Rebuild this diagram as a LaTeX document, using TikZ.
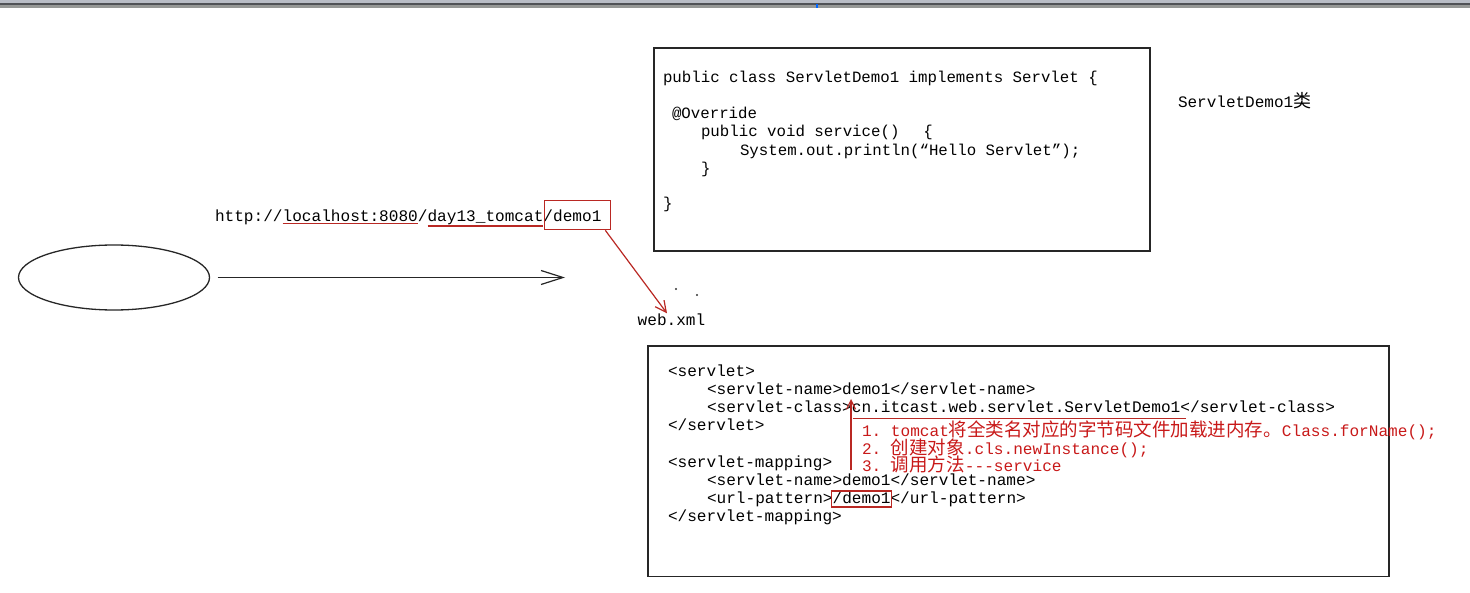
\documentclass[tikz,border=0pt]{standalone}
\usepackage{fontspec}
\setmonofont{Liberation Mono}
\newfontfamily\cjk{Noto Sans CJK SC}
\usetikzlibrary{arrows.meta,shapes.geometric}
\definecolor{annred}{RGB}{200,25,25}
\definecolor{linered}{RGB}{185,40,35}
\definecolor{barlight}{RGB}{185,189,198}
\definecolor{bardark}{RGB}{80,82,86}
\definecolor{barmid}{RGB}{150,152,150}
\newcommand{\zh}[1]{{\cjk\fontsize{18.5}{20}\selectfont #1}}
\newcommand{\zhs}[1]{{\cjk\fontsize{18}{20}\selectfont #1}}
\begin{document}
\begin{tikzpicture}[x=1pt,y=-1pt,
  codeA/.style={font=\ttfamily\fontsize{15.75}{18}\selectfont, inner sep=0pt, outer sep=0pt, anchor=base west},
  codeB/.style={font=\ttfamily\fontsize{16.1}{18}\selectfont, inner sep=0pt, outer sep=0pt, anchor=base west},
  ann/.style={codeB, text=annred},
  box/.style={draw=black!85, line width=1.7pt, inner sep=0pt, anchor=north west},
  redbox/.style={draw=linered, line width=1.3pt, inner sep=0pt, anchor=north west},
  redline/.style={draw=linered, line width=1.2pt},
  barb/.style={-{Straight Barb[length=#1pt,width=#1pt]}}]
\useasboundingbox (0,0) rectangle (1470,593);
% top bar
\fill[barlight] (0,0) rectangle (1470,3);
\fill[bardark] (0,3) rectangle (1470,4.6);
\fill[barmid] (0,4.6) rectangle (1470,7.6);
\fill[blue!60!cyan] (816,4) rectangle (818,8);

% client ellipse and request arrow
\node (client) [ellipse, draw=black!85, line width=1.3pt, minimum width=191pt, minimum height=65pt, inner sep=0pt] at (114,277.5) {};
\coordinate (reqend) at (565,277.5);
\draw[line width=1.5pt, black!85, shorten <=7.5pt, -{Straight Barb[length=22pt,width=14pt,line width=1.2pt]}] (client.east) -- (reqend);

% URL
\node[codeB] (u1) at (215,222) {http://};
\node[codeB] (u2) at (u1.base east) {localhost:8080};
\node[codeB] (u3) at (u2.base east) {/};
\node[codeB] (u4) at (u3.base east) {day13\_tomcat};
\node[codeB] (u5) at (u4.base east) {/demo1};
\draw[redline] ([yshift=-1.8pt]u2.base west) -- ([yshift=-1.8pt]u2.base east);
\draw[redline] ([yshift=-4pt]u4.base west) -- ([yshift=-4pt]u4.base east);
\node (demobox) [redbox, minimum width=66pt, minimum height=29pt] at (544,200) {};

% web.xml
\node[codeB, anchor=base] (webxml) at (671.5,326) {web.xml};
\draw[redline, barb=11] ([xshift=-6pt]demobox.south east) -- ([xshift=-4.5pt,yshift=1pt]webxml.north);
\fill[black!80] (676,289) circle (1.1pt);
\fill[black!80] (697,295) circle (1.1pt);

% class box
\node (classbox) [box, minimum width=496pt, minimum height=203pt] at (653,47) {};
\node[codeA] (c1) at (663,82.5) {public class ServletDemo1 implements Servlet \{};
\node[codeA] (c2) at (672,119) {@Override};
\node[codeA] (c3) at (701,137) {public void service()\hspace{24pt}\{};
\node[codeA] (c4) at (740,155.3) {System.out.println(“Hello Servlet”);};
\node[codeA] (c5) at (701,173.5) {\}};
\node[codeA] (c6) at (663,209) {\}};
\node[codeA, font=\ttfamily\fontsize{16}{18}\selectfont] (clslabel) at (1178,108) {ServletDemo1\zhs{类}};

% web.xml box
\node (xmlbox) [box, minimum width=741pt, minimum height=230pt] at (647,345.5) {};
\node[codeB] (x1) at (668,377) {<servlet>};
\node[codeB] (x2) at (707,395) {<servlet-name>demo1</servlet-name>};
\node[codeB] (x3a) at (707,413) {<servlet-class>};
\node[codeB] (x3b) at (x3a.base east) {cn.itcast.web.servlet.ServletDemo1};
\node[codeB] (x3c) at (x3b.base east) {</servlet-class>};
\node[codeB] (x4) at (668,431) {</servlet>};
\node[codeB] (x5) at (668,467) {<servlet-mapping>};
\node[codeB] (x6) at (707,485) {<servlet-name>demo1</servlet-name>};
\node[codeB] (x7a) at (707,503) {<url-pattern>};
\node[codeB] (x7b) at (x7a.base east) {/demo1};
\node[codeB] (x7c) at (x7b.base east) {</url-pattern>};
\node[codeB] (x8) at (668,521) {</servlet-mapping>};
\draw[redline] ([shift={(-1pt,12pt)}]x7b.base west) rectangle ([shift={(1pt,-4pt)}]x7b.base east);

% annotations
\draw[redline] ([shift={(1pt,-5.5pt)}]x3b.base west) -- ([shift={(6pt,-5.5pt)}]x3b.base east);
\coordinate (vtop) at (851,399);
\coordinate (vbot) at (851,470);
\draw[redline, barb=9] (vbot) -- (vtop);
\node[ann] (a1) at (862,436) {1. tomcat\zh{将全类名对应的字节码文件加载进内存。}Class.forName();};
\node[ann] (a2) at (862,454) {2. \zh{创建对象}.cls.newInstance();};
\node[ann] (a3) at (862,471.5) {3. \zh{调用方法}---service};
\end{tikzpicture}
\end{document}
